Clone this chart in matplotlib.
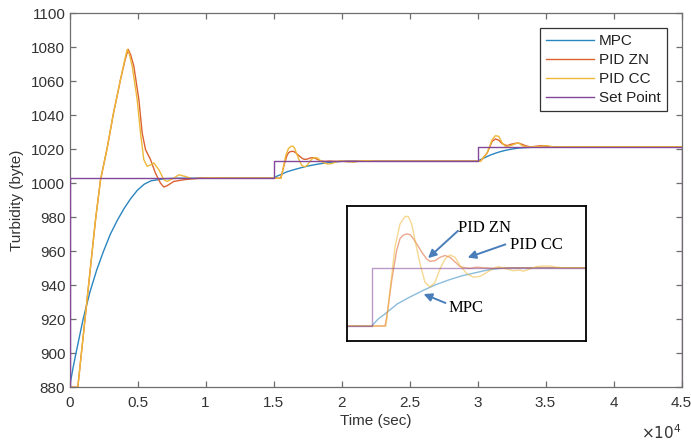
import matplotlib
matplotlib.use('Agg')
import matplotlib.pyplot as plt

# time in seconds, turbidity in byte
t_mpc = [0, 250, 500, 1000, 1500, 2000, 2500, 3000, 3500, 4000, 4500, 5000, 5500, 6000, 7000, 8000,
         15000, 15250, 15500, 16000, 16500, 17000, 17500, 18000, 18500, 19000, 19500, 20000, 20500,
         30000, 30500, 31000, 31500, 32000, 32500, 33000, 34000, 35000, 45000]
mpc = [880, 891, 901, 920, 936, 949, 960, 970, 978, 985, 991, 996, 999.5, 1001.5, 1002.7, 1003,
       1003, 1004.2, 1005.0, 1006.8, 1008.0, 1009.1, 1010.1, 1010.9, 1011.6, 1012.1, 1012.6, 1012.9, 1013,
       1013, 1015, 1016.8, 1018.2, 1019.3, 1020.1, 1020.7, 1021.2, 1021.5, 1021.5]

t_zn = [0, 610, 1912, 2280, 2772, 3213, 3750, 4100, 4316, 4500, 4730, 5100, 5343, 5590, 5960, 6320,
        6690, 6935, 7180, 7670, 8405, 9630, 15000,
        15519, 15585, 15780, 15975, 16104, 16232, 16365, 16494, 16622, 16755, 16950, 17145, 17274,
        17469, 17664, 17859, 18054, 18249, 18444, 18639, 18834, 19095, 19352, 19742, 20200, 30000,
        30220, 30710, 31080, 31320, 31570, 31815, 32180, 32430, 32670, 32920, 33160, 33530, 33900,
        34630, 35000, 35400, 45000]
pid_zn = [880, 880, 978.5, 1002, 1020.8, 1040.4, 1061, 1073, 1078.8, 1075.5, 1068.9, 1049.3, 1029.6, 1019.8, 1013.9, 1006,
          1000.1, 997.8, 998.6, 1001.1, 1002.1, 1003.1, 1003,
          1003, 1004.5, 1010.8, 1016.0, 1018.0, 1018.6, 1018.8, 1018.7, 1018.0, 1017.1, 1015.7, 1014.5, 1014.1,
          1014.2, 1014.8, 1015.1, 1014.8, 1014.0, 1013.2, 1013.0, 1012.9, 1013.1, 1013.0, 1012.9, 1013, 1013,
          1013, 1017.8, 1024.7, 1026.1, 1025.3, 1023.3, 1022.1, 1022.9, 1023.3, 1023.7, 1023.3, 1022.1, 1021.4,
          1022.1, 1022.0, 1021.4, 1021.5]

t_cc = [0, 610, 1912, 2280, 2772, 3213, 3750, 4100, 4243, 4400, 4610, 4975, 5220, 5465, 5710, 6005,
        6200, 6570, 6935, 7180, 7670, 8040, 8530, 9020, 10125, 15000,
        15558, 15714, 15909, 16104, 16299, 16427, 16560, 16689, 16884, 17079, 17274, 17469, 17664,
        17859, 18054, 18249, 18444, 18705, 18962, 19224, 19485, 19742, 19937, 20265, 20522, 20784,
        20912, 21174, 21430, 21690, 21954, 22215, 22470, 30000,
        30220, 30710, 31080, 31320, 31570, 31815, 32060, 32430, 32800, 33040, 33290, 33655, 34200,
        34630, 35120, 35610, 36500, 45000]
pid_cc = [880, 880, 978.5, 1002, 1020.8, 1040.4, 1061, 1074, 1078.8, 1076, 1068.9, 1049.3, 1029.6, 1013.9, 1010, 1011,
          1012, 1008, 1002.1, 1001.1, 1003.1, 1005, 1004, 1002.7, 1003.1, 1003,
          1003, 1009.1, 1016.6, 1020.5, 1021.8, 1021.8, 1020.5, 1017.7, 1013.7, 1010.5, 1009.7, 1010.5, 1012.8,
          1014.5, 1015.2, 1014.8, 1013.4, 1012.0, 1011.4, 1011.5, 1012.2, 1012.9, 1013.2, 1012.8, 1012.5, 1012.6,
          1012.4, 1012.8, 1013.2, 1013.3, 1013.3, 1013.1, 1013.0, 1013,
          1013, 1017.8, 1025.7, 1028, 1027.6, 1023.7, 1021.7, 1022.1, 1023.3, 1023.7, 1022.1, 1021.4, 1021.5,
          1021.7, 1022.1, 1021.4, 1021.5, 1021.5]

t_sp = [0, 0, 15000, 15000, 30000, 30000, 45000, 45000]
set_point = [880, 1003, 1003, 1013, 1013, 1021.5, 1021.5, 880]

xtick_vals = [0, 5000, 10000, 15000, 20000, 25000, 30000, 35000, 40000, 45000]
xtick_labels = ['0', '0.5', '1', '1.5', '2', '2.5', '3', '3.5', '4', '4.5']
ytick_vals = list(range(880, 1101, 20))

series = [('MPC', t_mpc, mpc, '#2a86c0'),
          ('PID ZN', t_zn, pid_zn, '#dc6230'),
          ('PID CC', t_cc, pid_cc, '#eeb838'),
          ('Set Point', t_sp, set_point, '#84489a')]

W, H = 691, 441
plt.rcParams['font.family'] = ['Liberation Sans', 'DejaVu Sans']
fig = plt.figure(figsize=(W / 100, H / 100), dpi=100)
ax = fig.add_axes([69.5 / W, 1 - 387.3 / H, 612 / W, 374 / H])

for name, t, v, c in series:
    ax.plot(t, v, color=c, lw=1.0, label=name, zorder=3 if name == 'Set Point' else 2)

ax.set_xlim(0, 45000)
ax.set_ylim(880, 1100)
ax.set_xticks(xtick_vals)
ax.set_xticklabels(xtick_labels)
ax.set_yticks(ytick_vals)
axcol = '#6e6e6e'
txtcol = '#333333'
ax.tick_params(direction='in', length=4, width=0.9, color=axcol, labelcolor=txtcol,
               labelsize=11, top=True, right=True)
ax.tick_params(axis='x', pad=6)
ax.tick_params(axis='y', pad=3)
for s in ax.spines.values():
    s.set_color(axcol)
    s.set_linewidth(0.9)
ax.set_xlabel('Time (sec)', fontsize=11, color=txtcol, labelpad=3)
ax.set_ylabel('Turbidity (byte)', fontsize=11, color=txtcol, labelpad=5)
ax.text(1.0, -0.12, r'$\times10^{4}$', transform=ax.transAxes, ha='right', va='center',
        fontsize=11, color=txtcol)

leg = ax.legend(loc='upper right', fontsize=11, frameon=True, fancybox=False, framealpha=1,
                edgecolor='#333333', borderaxespad=0.95, handlelength=3.1, handletextpad=0.35,
                labelspacing=0.33, borderpad=0.4)
leg.get_frame().set_linewidth(0.9)
for txt in leg.get_texts():
    txt.set_color('#222222')

# zoomed view of the second step
ins = fig.add_axes([347 / W, 1 - 341 / H, 239 / W, 135 / H])
for name, t, v, c in series:
    ins.plot(t, v, color=c, lw=1.0, alpha=0.55)
ins.set_xlim(14037, 23358)
ins.set_ylim(1000.43, 1023.6)
ins.set_xticks([])
ins.set_yticks([])
for s in ins.spines.values():
    s.set_color('black')
    s.set_linewidth(1.3)

arrow_col = '#4a7ebb'
notes = [('PID ZN', (485, 228), (460, 229), (426, 260)),
         ('PID CC', (536, 245), (508, 243.5), (465, 258.5)),
         ('MPC', (466.5, 308), (448, 304), (421, 293))]
for label, (tx, ty), (ax0, ay0), (hx, hy) in notes:
    fig.text(tx / W, 1 - ty / H, label, ha='center', va='center', fontsize=12,
             family=['Liberation Serif', 'DejaVu Serif'], color='black')
    fig.add_artist(matplotlib.patches.FancyArrowPatch(
        (ax0 / W, 1 - ay0 / H), (hx / W, 1 - hy / H), transform=fig.transFigure,
        arrowstyle='-|>', mutation_scale=12, lw=1.4, color=arrow_col))

fig.savefig('out.png', dpi=100)
